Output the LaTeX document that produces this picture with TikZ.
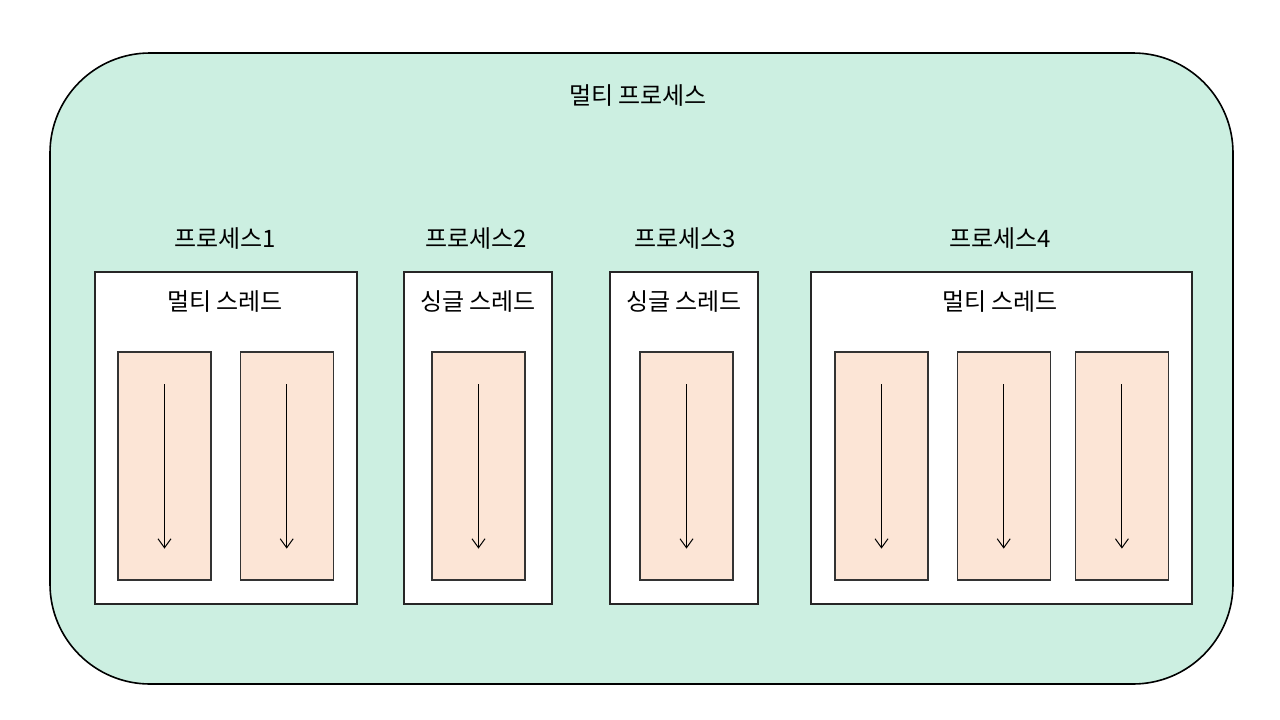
\documentclass[tikz,border=0pt]{standalone}
\usepackage{fontspec}
\setmainfont{Noto Sans CJK KR}
\usetikzlibrary{arrows.meta,positioning}
\definecolor{procgreen}{RGB}{204,239,225}
\definecolor{threadpeach}{RGB}{252,229,214}

\begin{document}
\begin{tikzpicture}[x=1pt,y=-1pt,>={Straight Barb[length=9pt,width=13pt]},
  every node/.style={font=\fontsize{24}{28}\selectfont},
  procbox/.style={draw=black!85,line width=1.5pt,fill=white,minimum height=332pt,inner sep=0pt},
  threadbox/.style={draw=black!80,line width=1.2pt,fill=threadpeach,minimum width=93pt,minimum height=228pt,inner sep=0pt},
  flow/.style={->,line width=1pt}]
    \useasboundingbox (0,0) rectangle (1280,720);
    \node (multi) [draw,line width=1.6pt,fill=procgreen,rounded corners=100pt,minimum width=1183pt,minimum height=631pt] at (641.5,368.5) {};
    \node (multilabel) at (638,96) {멀티 프로세스};
    % processes
    \node (proc1) [procbox,minimum width=262pt] at (226,438) {};
    \node (proc2) [procbox,minimum width=148pt] at (478,438) {};
    \node (proc3) [procbox,minimum width=148pt] at (684,438) {};
    \node (proc4) [procbox,minimum width=381pt] at (1001.5,438) {};
    \node (proc1label) at (225,239) {프로세스1};
    \node (proc2label) at (476,239) {프로세스2};
    \node (proc3label) at (685,239) {프로세스3};
    \node (proc4label) at (1000,239) {프로세스4};
    \node (kind1) at (225,302) {멀티 스레드};
    \node (kind2) at (478,302) {싱글 스레드};
    \node (kind3) at (684,302) {싱글 스레드};
    \node (kind4) at (1000,302) {멀티 스레드};
    % threads
    \node (thread11) [threadbox] at (164.5,466) {};
    \node (thread12) [threadbox,right=28pt of thread11] {};
    \node (thread21) [threadbox] at (478.5,466) {};
    \node (thread31) [threadbox] at (686.5,466) {};
    \node (thread41) [threadbox] at (881.5,466) {};
    \node (thread42) [threadbox,right=28pt of thread41] {};
    \node (thread43) [threadbox,right=24pt of thread42] {};
    \foreach \t in {thread11,thread12,thread21,thread31,thread41,thread42,thread43}
        \draw [flow] ([yshift=-33pt]\t.north) -- ([yshift=32pt]\t.south);
\end{tikzpicture}
\end{document}
